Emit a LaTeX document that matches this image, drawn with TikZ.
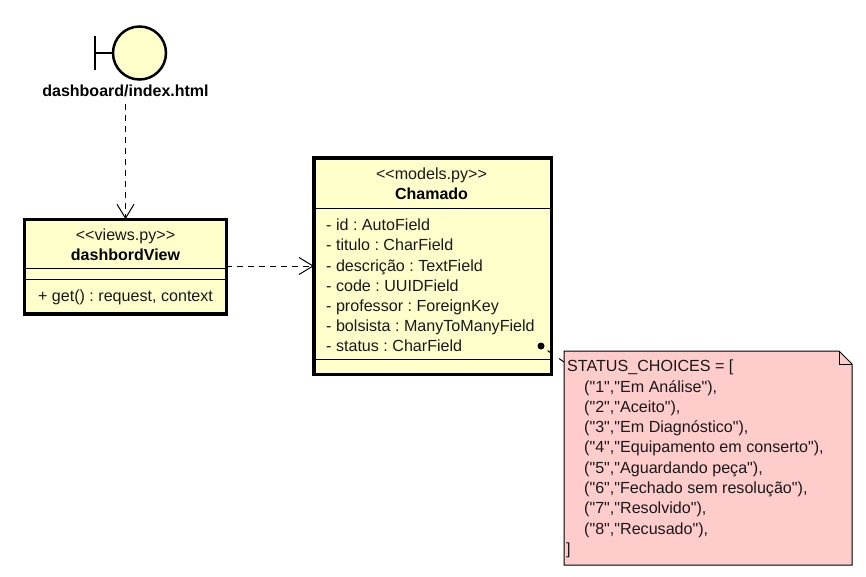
\documentclass[tikz,border=0pt]{standalone}
\usepackage{fontspec}
\newfontfamily\arialf{Liberation Sans}
\usetikzlibrary{arrows.meta,calc}
\definecolor{umlfill}{HTML}{FFFFCC}
\definecolor{notefill}{HTML}{FFCCCC}
\tikzset{
  x=1pt,y=-1pt,
  classbox/.style={draw=black,line width=3.4pt,fill=umlfill,anchor=north west,inner sep=0pt,outer sep=0pt},
  sep/.style={draw=black,line width=1pt},
  label/.style={font=\arialf\frenchspacing\fontsize{16.1}{18}\selectfont,inner sep=0pt,text=black!90,text height=12pt,text depth=3pt},
  blabel/.style={font=\arialf\frenchspacing\bfseries\fontsize{16}{18}\selectfont,inner sep=0pt,text=black,text height=12pt,text depth=3pt},
  attr/.style={font=\arialf\frenchspacing\fontsize{16.1}{18}\selectfont,inner sep=0pt,anchor=west,text=black!90,text height=12pt,text depth=3pt},
  dep/.style={draw=black,line width=1pt,dash pattern=on 6pt off 5pt,-{Straight Barb[length=14pt,width=17pt,line width=1pt]}},
}
\begin{document}
\begin{tikzpicture}
\useasboundingbox (0,0) rectangle (866,576);
\fill[white] (0,0) rectangle (866,576);

% boundary
\node[circle,draw=black,line width=2.5pt,fill=umlfill,minimum size=53pt,inner sep=0pt,outer sep=0pt] (bd) at (139.5,53) {};
\coordinate (barm) at (95,53);
\draw[line width=2.5pt] (barm) -- (bd.west);
\draw[line width=2.5pt] (95,36) -- (95,70);
\node[blabel] (bdl) at (125.5,91.5) {dashboard/index.html};

% view class
\node[classbox,minimum width=201.6pt,minimum height=94.6pt] (view) at (24.6,219.2) {};
\draw[sep] (24.6,268) -- (226.2,268);
\draw[sep] (24.6,279) -- (226.2,279);
\node[label] (viewst) at (125.5,235.5) {<<views.py>>};
\node[blabel] (viewn) at (125.5,255.5) {dashbordView};
\node[label] (viewop) at (125.5,296.5) {+ get() : request, context};

% Chamado class
\node[classbox,minimum width=237.5pt,minimum height=216.5pt] (cham) at (314,157.8) {};
\draw[sep] (314,208) -- (551.5,208);
\draw[sep] (314,359) -- (551.5,359);
\node[label] (chamst) at (431.5,174.5) {<<models.py>>};
\node[blabel] (chamn) at (431.5,194.5) {Chamado};
\node[attr] (a1) at (326,226) {- id : AutoField};
\node[attr] (a2) at (326,246) {- titulo : CharField};
\node[attr] (a3) at (326,266.5) {- descrição : TextField};
\node[attr] (a4) at (326,286.5) {- code : UUIDField};
\node[attr] (a5) at (326,307) {- professor : ForeignKey};
\node[attr] (a6) at (326,327) {- bolsista : ManyToManyField};
\node[attr] (a7) at (326,347) {- status : CharField};

% note
\coordinate (n1) at (564,351);
\coordinate (n2) at (839,351);
\coordinate (n3) at (852,364);
\coordinate (n4) at (852,565);
\coordinate (n5) at (564,565);
\draw[line width=1pt,fill=notefill] (n1) -- (n2) -- (n3) -- (n4) -- (n5) -- cycle;
\draw[line width=1pt] (n2) -- (839,364) -- (n3);
\node[attr] (t0) at (567,367) {STATUS\_CHOICES = [};
\node[attr] (t1) at (584,387.5) {("1","Em Análise"),};
\node[attr] (t2) at (584,408) {("2","Aceito"),};
\node[attr] (t3) at (584,428) {("3","Em Diagnóstico"),};
\node[attr] (t4) at (584,448) {("4","Equipamento em conserto"),};
\node[attr] (t5) at (584,468.5) {("5","Aguardando peça"),};
\node[attr] (t6) at (584,488.5) {("6","Fechado sem resolução"),};
\node[attr] (t7) at (584,509) {("7","Resolvido"),};
\node[attr] (t8) at (584,529.5) {("8","Recusado"),};
\node[attr] (t9) at (566,549.5) {]};

% connectors
\coordinate (dstart) at ($(bdl.south)+(0,5)$);
\draw[dep] (dstart) -- (view.north -| dstart);
\coordinate (rstart) at (view.east |- 0,266);
\draw[dep] (rstart) -- (cham.west |- rstart);
\node[circle,fill=black,minimum size=7pt,inner sep=0pt] (dot) at (541,346) {};
\coordinate (nanchor) at (564,362);
\draw[line width=1pt,dash pattern=on 6pt off 8pt,shorten <=8pt] (dot.center) -- (nanchor);
\end{tikzpicture}
\end{document}
